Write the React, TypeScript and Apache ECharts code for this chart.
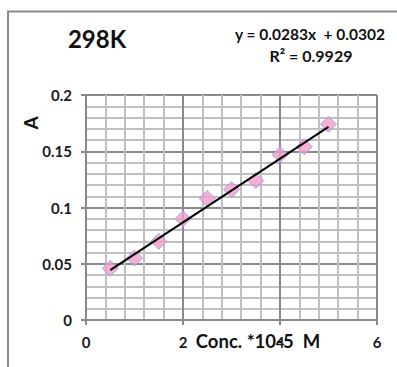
import React, { useEffect, useRef } from "react";
import * as echarts from "echarts";

const concentrations = [0.5, 1, 1.5, 2, 2.5, 3, 3.5, 4, 4.5, 5];
const absorbance = [0.046, 0.055, 0.07, 0.09, 0.108, 0.116, 0.124, 0.147, 0.154, 0.174];
const slope = 0.0283;
const intercept = 0.0302;
const titleText = "298K";
const equationText = "y = 0.0283x  + 0.0302";
const r2Text = "R² = 0.9929";
const xTitle = "Conc. *10-5  M";
const yTitle = "A";

const FONT = "Lato, 'Open Sans', 'DejaVu Sans', sans-serif";

export default function App() {
  const ref = useRef<HTMLDivElement>(null);
  useEffect(() => {
    if (!ref.current) return;
    const chart = echarts.init(ref.current, undefined, { renderer: "svg" });
    const pts = concentrations.map((x, i) => [x, absorbance[i]]);
    const x0 = concentrations[0];
    const x1 = concentrations[concentrations.length - 1];
    const trend = [
      [x0, slope * x0 + intercept],
      [x1, slope * x1 + intercept],
    ];
    chart.setOption({
      animation: false,
      backgroundColor: "#ffffff",
      textStyle: { fontFamily: FONT },
      grid: { left: 86, right: 20, top: 95, bottom: 47, containLabel: false },
      xAxis: {
        type: "value",
        min: 0,
        max: 6,
        interval: 2,
        axisLine: { show: true, lineStyle: { color: "#8a8a8a", width: 2 } },
        axisTick: { show: true, length: 5, lineStyle: { color: "#8a8a8a", width: 2 } },
        axisLabel: { color: "#1a1a1a", fontWeight: "bold", fontSize: 15, margin: 14, fontFamily: FONT },
        splitLine: { show: true, lineStyle: { color: "#8a8a8a", width: 2 } },
        minorTick: { show: false, splitNumber: 5 },
        minorSplitLine: { show: true, lineStyle: { color: "#c0c0c0", width: 2 } },
      },
      yAxis: {
        type: "value",
        min: 0,
        max: 0.2,
        interval: 0.05,
        axisLine: { show: true, lineStyle: { color: "#8a8a8a", width: 2 } },
        axisTick: { show: true, length: 5, lineStyle: { color: "#8a8a8a", width: 2 } },
        axisLabel: { color: "#1a1a1a", fontWeight: "bold", fontSize: 15, margin: 14, fontFamily: FONT },
        splitLine: { show: true, lineStyle: { color: "#8a8a8a", width: 2 } },
        minorTick: { show: false, splitNumber: 5 },
        minorSplitLine: { show: true, lineStyle: { color: "#c0c0c0", width: 2 } },
      },
      series: [
        {
          type: "scatter",
          data: pts,
          symbol: "diamond",
          symbolSize: 16,
          itemStyle: { color: "#f79ccb", borderColor: "#8c9be6", borderWidth: 1 },
          z: 3,
        },
        {
          type: "line",
          data: trend,
          showSymbol: false,
          symbol: "none",
          lineStyle: { color: "#000", width: 2 },
          z: 4,
        },
      ],
      graphic: [
        {
          type: "rect",
          shape: { x: 8, y: 11.5, width: 420, height: 420 },
          style: { fill: "none", stroke: "#8a8a8a", lineWidth: 2 },
          silent: true,
        },
        {
          type: "text",
          x: 97,
          y: 38,
          style: { text: titleText, font: `bold 24px ${FONT}`, fill: "#111", align: "center", verticalAlign: "middle" },
        },
        {
          type: "text",
          x: 310,
          y: 34,
          style: { text: equationText, font: `bold 15.5px ${FONT}`, fill: "#111", align: "center", verticalAlign: "middle" },
        },
        {
          type: "text",
          x: 311,
          y: 55,
          style: { text: r2Text, font: `bold 16px ${FONT}`, fill: "#111", align: "center", verticalAlign: "middle" },
        },
        {
          type: "text",
          x: 258,
          y: 341,
          style: { text: xTitle, font: `bold 18.5px ${FONT}`, fill: "#111", align: "center", verticalAlign: "middle" },
        },
        {
          type: "text",
          x: 30,
          y: 123,
          rotation: Math.PI / 2,
          style: { text: yTitle, font: `bold 19px ${FONT}`, fill: "#111", align: "center", verticalAlign: "middle" },
        },
      ],
    });
    return () => chart.dispose();
  }, []);
  return (
    <div
      ref={ref}
      style={{ position: "fixed", left: 0, top: 0, width: 397, height: 367 }}
    />
  );
}
